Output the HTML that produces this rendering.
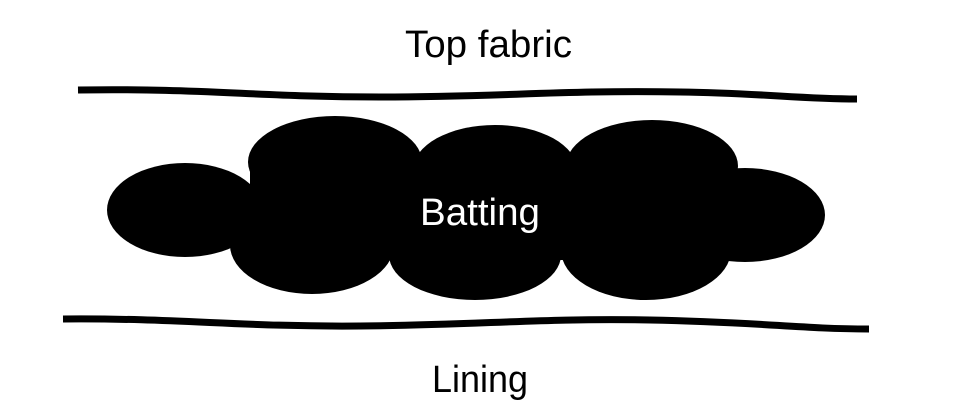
<!DOCTYPE html>
<html><head><meta charset="utf-8"><style>
html,body{margin:0;padding:0;background:#fff;}
svg{display:block;}
text{font-family:"Liberation Sans",sans-serif;}
</style></head><body>
<svg width="960" height="420" viewBox="0 0 960 420" xmlns="http://www.w3.org/2000/svg">
<path d="M78,90 C200,88 260,97 380,97 C500,97 560,90 680,92 C760,93 800,99 857,99" fill="none" stroke="#000" stroke-width="7"/>
<path d="M63,319 C180,318 240,327 360,326 C480,325 540,318 650,320 C760,322 800,329 869,329" fill="none" stroke="#000" stroke-width="7"/>
<g fill="#000">
<ellipse cx="185" cy="210" rx="78" ry="47"/>
<ellipse cx="745" cy="215" rx="80" ry="47"/>
<ellipse cx="335" cy="162" rx="87" ry="46"/>
<ellipse cx="495" cy="170" rx="82" ry="45"/>
<ellipse cx="652" cy="166" rx="86" ry="46"/>
<ellipse cx="312" cy="245" rx="82" ry="49"/>
<ellipse cx="475" cy="255" rx="86" ry="45"/>
<ellipse cx="646" cy="250" rx="85" ry="50"/>
<rect x="250" y="160" width="480" height="100"/>
</g>
<text x="405" y="57" font-size="38" textLength="167" lengthAdjust="spacingAndGlyphs" fill="#000">Top fabric</text>
<text x="420" y="225" font-size="38" textLength="120" lengthAdjust="spacingAndGlyphs" fill="#fff">Batting</text>
<text x="432" y="392" font-size="38" textLength="96" lengthAdjust="spacingAndGlyphs" fill="#000">Lining</text>
</svg>
</body></html>
